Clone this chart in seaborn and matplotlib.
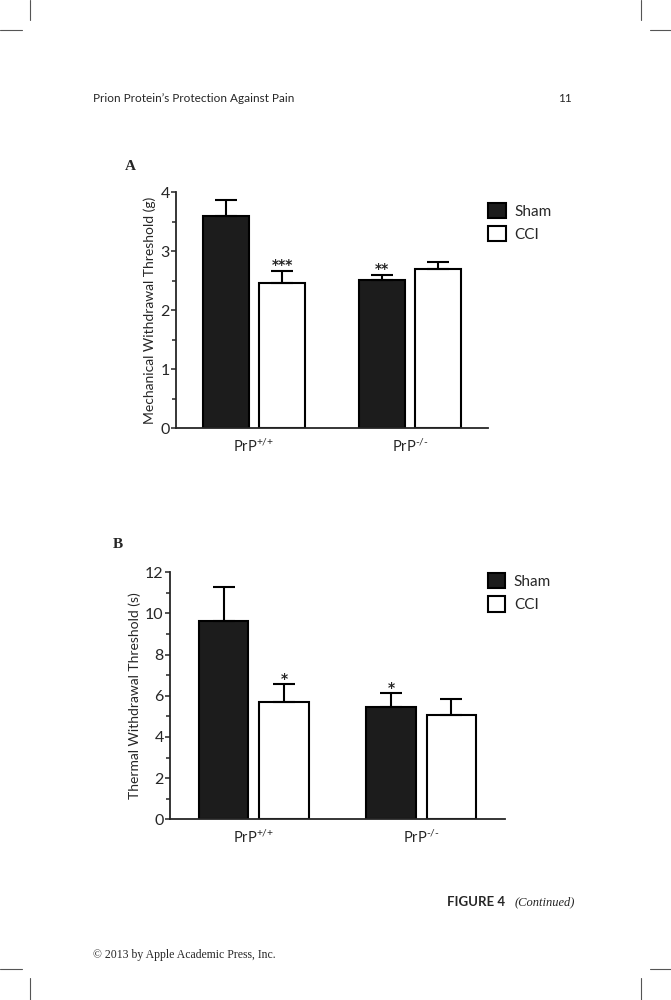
import seaborn as sns
import matplotlib.pyplot as plt
import pandas as pd
from matplotlib.lines import Line2D
from matplotlib.ticker import MultipleLocator

# data
genotypes = ['PrP$^{\\text{+/+}}$', 'PrP$^{\\text{-/-}}$']
conditions = ['Sham', 'CCI']

mech_sham = [3.60, 2.51]
mech_cci = [2.47, 2.70]
mech_sham_sem = [0.27, 0.09]
mech_cci_sem = [0.20, 0.12]
mech_stars_sham = ['', '**']
mech_stars_cci = ['***', '']

therm_sham = [9.65, 5.44]
therm_cci = [5.70, 5.07]
therm_sham_sem = [1.62, 0.68]
therm_cci_sem = [0.86, 0.78]
therm_stars_sham = ['', '*']
therm_stars_cci = ['*', '']

sns.set_theme(style='ticks')
plt.rcParams['font.family'] = ['Lato', 'DejaVu Sans']
plt.rcParams['mathtext.fontset'] = 'custom'
plt.rcParams['mathtext.rm'] = 'Lato'
plt.rcParams['mathtext.it'] = 'Lato:italic'


def tabla(sham, cci):
    filas = []
    for g, v in zip(genotypes, sham):
        filas.append({'genotype': g, 'condition': 'Sham', 'value': v})
    for g, v in zip(genotypes, cci):
        filas.append({'genotype': g, 'condition': 'CCI', 'value': v})
    return pd.DataFrame(filas)


def panel(ax, sham, cci, sems, stars, ylabel, ymax, major, minor, leg_x, leg_y):
    df = tabla(sham, cci)
    sns.barplot(data=df, x='genotype', y='value', hue='condition',
                hue_order=conditions, order=genotypes,
                palette={'Sham': '#1c1c1c', 'CCI': 'white'},
                edgecolor='black', linewidth=1.5, width=0.72, gap=0.18,
                errorbar=None, ax=ax, legend=False)
    for cont, sem, st in zip(ax.containers, sems, stars):
        for p, e, s in zip(cont.patches, sem, st):
            x = p.get_x() + p.get_width() / 2
            h = p.get_height()
            ax.errorbar(x, h, yerr=[[0], [e]], fmt='none', ecolor='black',
                        elinewidth=1.5, capsize=8, capthick=1.5, zorder=1)
            if s:
                ax.annotate(s, (x, h + e), xytext=(0, -1),
                            textcoords='offset points', ha='center',
                            va='bottom', fontsize=10, fontweight='bold',
                            family='DejaVu Sans')
    ax.set_xlim(-0.5, 1.5)
    ax.set_ylim(0, ymax)
    ax.yaxis.set_major_locator(MultipleLocator(major))
    ax.yaxis.set_minor_locator(MultipleLocator(minor))
    ax.set_xlabel('')
    ax.set_ylabel(ylabel, fontsize=10, labelpad=3)
    ax.tick_params(axis='y', which='major', length=3.5, width=1.1,
                   labelsize=11.5, pad=1)
    ax.tick_params(axis='y', which='minor', length=3, width=1.1)
    ax.tick_params(axis='x', length=0, labelsize=10.5, pad=7)
    for sp in ['left', 'bottom']:
        ax.spines[sp].set_linewidth(1.3)
    sns.despine(ax=ax)
    ax.legend(handles=list(ax.containers), labels=conditions,
              loc='upper left', bbox_to_anchor=(leg_x, leg_y),
              frameon=False, fontsize=11, handlelength=1.15,
              handleheight=1.15, handletextpad=0.55, labelspacing=0.5,
              borderaxespad=0, borderpad=0)


fig = plt.figure(figsize=(6.71, 10), dpi=100)
ax1 = fig.add_axes([0.2623, 0.5717, 0.465, 0.236])
ax2 = fig.add_axes([0.2534, 0.1807, 0.4992, 0.247])

panel(ax1, mech_sham, mech_cci, [mech_sham_sem, mech_cci_sem],
      [mech_stars_sham, mech_stars_cci],
      'Mechanical Withdrawal Threshold (g)', 4, 1, 0.5, 1.0, 0.955)
panel(ax2, therm_sham, therm_cci, [therm_sham_sem, therm_cci_sem],
      [therm_stars_sham, therm_stars_cci],
      'Thermal Withdrawal Threshold (s)', 12, 2, 1, 0.949, 0.997)

fig.text(125 / 671, 1 - 167 / 1000, 'A', fontsize=11, fontweight='bold',
         family='Liberation Serif', va='center')
fig.text(113 / 671, 1 - 545 / 1000, 'B', fontsize=11, fontweight='bold',
         family='Liberation Serif', va='center')

# page furniture
fig.text(93 / 671, 1 - 98 / 1000, "Prion Protein\u2019s Protection Against Pain",
         fontsize=8.5, va='center')
fig.text(572 / 671, 1 - 98 / 1000, '11', fontsize=8.5, va='center', ha='right')
fig.text(447 / 671, 1 - 902 / 1000, 'FIGURE 4', fontsize=9.5, va='center',
         fontweight='bold')
fig.text(515 / 671, 1 - 902 / 1000, '(Continued)', fontsize=9, va='center',
         style='italic', family='Liberation Serif')
fig.text(93 / 671, 1 - 955 / 1000, '\u00a9 2013 by Apple Academic Press, Inc.',
         fontsize=8.5, va='center', family='Liberation Serif')

marcas = [((30, 30), (0, 20)), ((0, 22), (30, 30)),
          ((641, 641), (0, 20)), ((650, 671), (30, 30)),
          ((30, 30), (978, 1000)), ((0, 22), (969, 969)),
          ((641, 641), (978, 1000)), ((650, 671), (969, 969))]
for xs, ys in marcas:
    fig.add_artist(Line2D([x / 671 for x in xs], [1 - y / 1000 for y in ys],
                          color='#555555', linewidth=0.8))

fig.savefig('out.png', dpi=100)
plt.close(fig)
